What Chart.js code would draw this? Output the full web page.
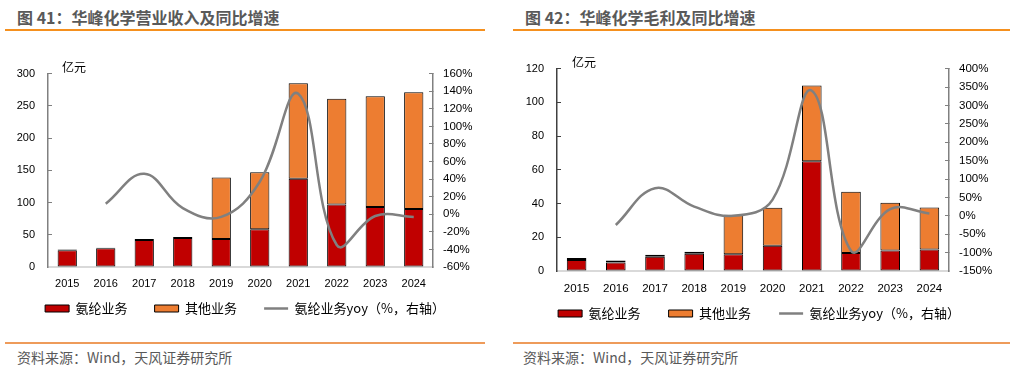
<!DOCTYPE html>
<html>
<head>
<meta charset="utf-8">
<script src="https://cdn.jsdelivr.net/npm/chart.js@4/dist/chart.umd.min.js"></script>
<style>
  body { margin: 0; background: #fff; }
  #page { position: relative; width: 1013px; height: 375px; overflow: hidden; font-family: "Noto Sans CJK SC", sans-serif; }
  .title { position: absolute; top: 5px; font-size: 16px; font-weight: bold; color: #595959; white-space: nowrap; }
  .rule { position: absolute; height: 2px; }
  .src { position: absolute; top: 347px; font-size: 14px; color: #595959; white-space: nowrap; }
  .unit { position: absolute; font-size: 12px; color: #000; }
  canvas { position: absolute; }
</style>
</head>
<body>
<div id="page">
  <div class="title" style="left:17px">图 41：华峰化学营业收入及同比增速</div>
  <div class="rule" style="left:5px;width:480px;top:29px;background:#f5901e"></div>
  <div class="title" style="left:525px">图 42：华峰化学毛利及同比增速</div>
  <div class="rule" style="left:513px;width:497px;top:29px;background:#f5901e"></div>

  <div style="position:absolute;left:0;top:50px;width:490px;height:275px"><canvas id="c1"></canvas></div>
  <div style="position:absolute;left:505px;top:45px;width:508px;height:285px"><canvas id="c2"></canvas></div>
  <div class="unit" style="left:62px;top:58px">亿元</div>
  <div class="unit" style="left:572px;top:53px">亿元</div>

  <div class="rule" style="left:5px;width:480px;top:342px;height:1.5px;background:#ee9b5a"></div>
  <div class="rule" style="left:513px;width:497px;top:342px;height:1.5px;background:#ee9b5a"></div>
  <div class="src" style="left:17px">资料来源：Wind，天风证券研究所</div>
  <div class="src" style="left:523px">资料来源：Wind，天风证券研究所</div>
</div>
<script>
// 年份
const years = ["2015", "2016", "2017", "2018", "2019", "2020", "2021", "2022", "2023", "2024"];

// 图41 营业收入（亿元）
const revSpandex = [26, 29, 42, 45, 43.5, 58.5, 137, 97, 93, 90];
const revOther = [1, 1, 1.5, 1.5, 95.5, 88.5, 148, 164, 172, 181];
const revYoy = [null, 12, 46, 7, -3, 37, 137, -35, -2, -3];

// 图42 毛利（亿元）
const gpSpandex = [6.5, 5, 8.5, 10.2, 10, 15, 65, 10.6, 12.2, 12.7];
const gpOther = [1.2, 1.2, 1.1, 1.2, 23.4, 22.5, 45, 36.4, 28.3, 24.9];
const gpYoy = [null, -25, 75, 25, 0, 44, 340, -95, 18, 6];

const RED = "#c00000";
const ORANGE = "#ed7d31";
const GREY = "#808080";
const tickFont = { family: "Liberation Sans, Arial", size: 11 };

function makeChart(id, o) {
  const ctx = document.getElementById(id).getContext("2d");
  return new Chart(ctx, {
    type: "bar",
    data: {
      labels: years,
      datasets: [
        {
          label: "氨纶业务",
          data: o.spandex,
          backgroundColor: RED,
          borderColor: "#000",
          borderWidth: 1,
          borderSkipped: false,
          barPercentage: 0.5,
          categoryPercentage: 1,
          pointStyle: "rect",
          order: 1,
        },
        {
          label: "其他业务",
          data: o.other,
          backgroundColor: ORANGE,
          borderColor: "#000",
          borderWidth: 1,
          borderSkipped: false,
          barPercentage: 0.5,
          categoryPercentage: 1,
          pointStyle: "rect",
          order: 1,
        },
        {
          type: "line",
          label: "氨纶业务yoy（%，右轴）",
          data: o.yoy,
          yAxisID: "y1",
          borderColor: GREY,
          backgroundColor: GREY,
          borderWidth: 2.5,
          tension: 0.4,
          pointRadius: 0,
          pointStyle: "line",
          spanGaps: true,
          order: 0,
        },
      ],
    },
    options: {
      responsive: true,
      maintainAspectRatio: false,
      animation: false,
      layout: { padding: { top: o.padTop, bottom: 0 } },
      plugins: {
        tooltip: { enabled: false },
        legend: {
          position: "bottom",
          labels: {
            usePointStyle: true,
            pointStyleWidth: 24,
            boxHeight: 7,
            padding: o.legendPad,
            color: "#000",
            font: { family: "Noto Sans CJK SC", size: 13 },
            sort: (a, b) => a.datasetIndex - b.datasetIndex,
          },
        },
      },
      scales: {
        x: {
          stacked: true,
          grid: { display: false },
          border: { color: "#d9d9d9", width: 2 },
          // mirror + negative padding: labels sit below the axis without being clipped to the short axis box
          ticks: { color: "#000", font: { ...tickFont, size: o.xFont }, mirror: true, padding: -o.xPad, maxRotation: 0 },
          afterFit: (s) => { s.height = o.xHeight; },
        },
        y: {
          stacked: true,
          position: "left",
          min: o.yMin,
          max: o.yMax,
          ticks: { stepSize: o.yStep, autoSkip: false, padding: 17, color: "#000", font: tickFont },
          grid: { drawOnChartArea: false, tickLength: -4, color: o.axisColor },
          border: { color: o.axisColor, width: 1.5 },
          afterFit: (s) => { s.width = o.leftW; },
        },
        y1: {
          position: "right",
          min: o.y1Min,
          max: o.y1Max,
          ticks: { stepSize: o.y1Step, autoSkip: false, padding: 14, color: "#000", font: { ...tickFont, size: 11.5 }, callback: (v) => v + "%" },
          grid: { drawOnChartArea: false, tickLength: -4, color: "#808080" },
          border: { color: "#808080", width: 1.5 },
          afterFit: (s) => { s.width = o.rightW; },
        },
      },
    },
  });
}

makeChart("c1", {
  spandex: revSpandex, other: revOther, yoy: revYoy,
  yMin: 0, yMax: 300, yStep: 50,
  y1Min: -60, y1Max: 160, y1Step: 20,
  leftW: 48, rightW: 57, padTop: 18, legendPad: 27,
  xHeight: 8, xPad: 24, xFont: 11, axisColor: "#808080",
});

makeChart("c2", {
  spandex: gpSpandex, other: gpOther, yoy: gpYoy,
  yMin: 0, yMax: 120, yStep: 20,
  y1Min: -150, y1Max: 400, y1Step: 50,
  leftW: 52, rightW: 64, padTop: 18, legendPad: 28,
  xHeight: 8, xPad: 25, xFont: 11.5, axisColor: "#404040",
});
</script>
</body>
</html>
